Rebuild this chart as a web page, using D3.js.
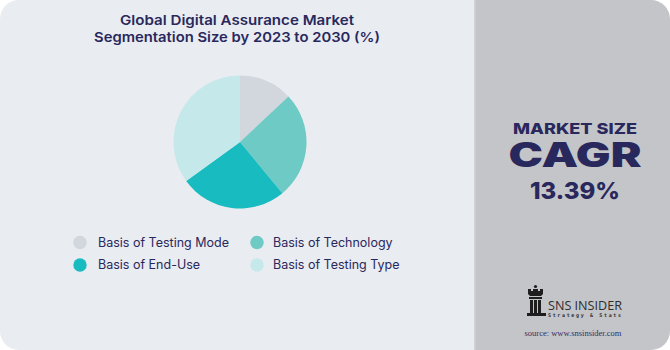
<!DOCTYPE html>
<html>
<head>
<meta charset="utf-8">
<script src="https://cdn.jsdelivr.net/npm/d3@7"></script>
<style>
html,body{margin:0;padding:0;background:#ffffff;}
svg{display:block;}
</style>
</head>
<body>
<div id="chart"></div>
<script>
const titleLines = ["Global Digital Assurance Market", "Segmentation Size by 2023 to 2030 (%)"];
const categories = ["Basis of Testing Mode", "Basis of Technology", "Basis of End-Use", "Basis of Testing Type"];
const values = [13, 26, 26, 35];
const colors = ["#d1d7dd", "#6ecac4", "#18bbc0", "#c5e8ea"];
const sideLabels = ["MARKET SIZE", "CAGR", "13.39%"];
const sourceText = "source: www.snsinsider.com";

const W = 670, H = 350;
const navy = "#29285c";
const font = "Inter, 'Noto Sans', sans-serif";

const svg = d3.select("#chart").append("svg").attr("width", W).attr("height", H);

// left panel (rounded left corners)
const r = 19, split = 474;
svg.append("path")
  .attr("d", `M${r},0 H${split} V${H} H${r} A${r},${r} 0 0 1 0,${H - r} V${r} A${r},${r} 0 0 1 ${r},0 Z`)
  .attr("fill", "#e9ecf1");
// right panel (rounded right corners)
svg.append("path")
  .attr("d", `M${split},0 H${W - r} A${r},${r} 0 0 1 ${W},${r} V${H - r} A${r},${r} 0 0 1 ${W - r},${H} H${split} Z`)
  .attr("fill", "#c4c5c8");
svg.append("rect").attr("x", split).attr("y", 0).attr("width", 1.5).attr("height", H).attr("fill", "#d2d3d6");

// title
const titleLens = [234, 286];
svg.append("g").selectAll("text").data(titleLines).join("text")
  .attr("x", 237).attr("y", (d, i) => 25 + i * 17)
  .attr("text-anchor", "middle")
  .attr("font-family", font).attr("font-weight", 600).attr("font-size", 13.5)
  .attr("fill", navy)
  .attr("textLength", (d, i) => titleLens[i]).attr("lengthAdjust", "spacingAndGlyphs")
  .text(d => d);

// pie
const data = categories.map((c, i) => ({ cat: c, value: values[i], color: colors[i] }));
const pie = d3.pie().sort(null).value(d => d.value);
const arc = d3.arc().innerRadius(0).outerRadius(66.5);
const g = svg.append("g").attr("transform", "translate(240,142)");
g.selectAll("path").data(pie(data)).join("path")
  .attr("d", arc)
  .attr("fill", d => d.data.color);

// legend
const colX = [80, 257], rowY = [242.5, 265];
const textX = [98, 273];
const leg = svg.append("g").selectAll("g").data(data).join("g");
leg.append("circle")
  .attr("cx", (d, i) => colX[i % 2])
  .attr("cy", (d, i) => rowY[Math.floor(i / 2)])
  .attr("r", 6.7)
  .attr("fill", d => d.color);
leg.append("text")
  .attr("x", (d, i) => textX[i % 2])
  .attr("y", (d, i) => rowY[Math.floor(i / 2)])
  .attr("dy", "0.35em")
  .attr("font-family", font).attr("font-size", 12.5).attr("font-weight", 400)
  .attr("fill", navy)
  .text(d => d.cat);

// right panel texts
const cx = 575;
svg.append("text").attr("x", cx).attr("y", 133.5).attr("text-anchor", "middle")
  .attr("font-family", font).attr("font-weight", 800).attr("font-size", 15)
  .attr("textLength", 124).attr("lengthAdjust", "spacingAndGlyphs")
  .attr("fill", navy).text(sideLabels[0]);
svg.append("text").attr("x", cx).attr("y", 167).attr("text-anchor", "middle")
  .attr("font-family", font).attr("font-weight", 900).attr("font-size", 33.5)
  .attr("textLength", 133).attr("lengthAdjust", "spacingAndGlyphs")
  .attr("fill", navy).text(sideLabels[1]);
svg.append("text").attr("x", cx).attr("y", 199).attr("text-anchor", "middle")
  .attr("font-family", font).attr("font-weight", 800).attr("font-size", 23)
  .attr("textLength", 90).attr("lengthAdjust", "spacingAndGlyphs")
  .attr("fill", navy).text(sideLabels[2]);

// logo
const logo = svg.append("g").attr("fill", "#1e1e1e");
logo.append("circle").attr("cx", 535.5).attr("cy", 286.5).attr("r", 1.6);
logo.append("path").attr("d",
  "M528,289 h3 v2 h2 v-2 h5 v2 h2 v-2 h3 v5 l-2,2 h-11 l-2,-2 Z");
logo.append("rect").attr("x", 529).attr("y", 297).attr("width", 13).attr("height", 2);
logo.append("rect").attr("x", 530).attr("y", 300).attr("width", 3).attr("height", 13);
logo.append("rect").attr("x", 534).attr("y", 300).attr("width", 3).attr("height", 13);
logo.append("rect").attr("x", 538).attr("y", 300).attr("width", 3).attr("height", 13);
logo.append("rect").attr("x", 527).attr("y", 313).attr("width", 19).attr("height", 3);
logo.append("text").attr("x", 548).attr("y", 309.5)
  .attr("font-family", "'Open Sans', sans-serif").attr("font-size", 12).attr("font-weight", 500)
  .attr("fill", "#2e2e2e").attr("textLength", 74).attr("lengthAdjust", "spacingAndGlyphs")
  .text("SNS INSIDER");
logo.append("text").attr("x", 548).attr("y", 317)
  .attr("font-family", "'DejaVu Sans Mono', monospace").attr("font-size", 5).attr("font-weight", 700)
  .attr("fill", "#2e2e2e").attr("textLength", 73).attr("lengthAdjust", "spacing")
  .text("Strategy & Stats");
svg.append("text").attr("x", 573).attr("y", 336).attr("text-anchor", "middle")
  .attr("font-family", "'Liberation Serif', serif").attr("font-size", 8.5)
  .attr("fill", "#2f2f6a").text(sourceText);
</script>
</body>
</html>
